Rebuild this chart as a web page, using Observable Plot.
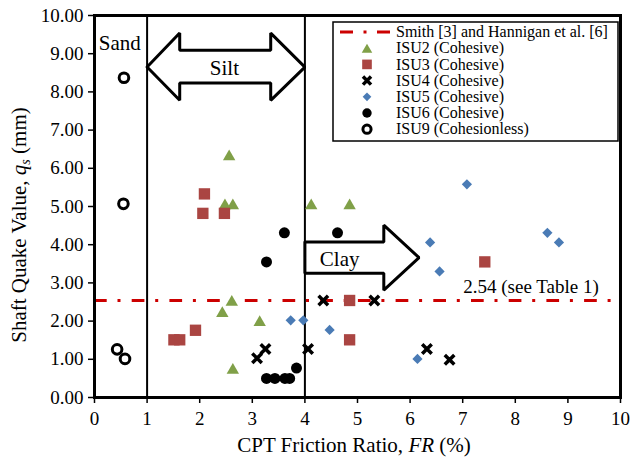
<!DOCTYPE html>
<html>
<head>
<meta charset="utf-8">
<script src="https://cdn.jsdelivr.net/npm/d3@7"></script>
<script src="https://cdn.jsdelivr.net/npm/@observablehq/plot@0.6"></script>
<style>
  html, body { margin: 0; padding: 0; background: #fff; }
  svg { display: block; }
</style>
</head>
<body>
<div id="chart"></div>
<script>
// CPT friction ratio FR (%) and shaft quake qs (mm), one list per test site
const isu2 = [[2.56, 6.35], [2.48, 5.07], [2.63, 5.07], [4.12, 5.07], [4.85, 5.07],
              [2.61, 2.54], [2.43, 2.25], [3.14, 2.01], [2.63, 0.76]];
const isu3 = [[2.09, 5.33], [2.06, 4.82], [2.47, 4.82], [1.51, 1.51], [1.62, 1.51],
              [1.92, 1.76], [4.85, 2.54], [4.85, 1.51], [7.42, 3.55]];
const isu4 = [[3.09, 1.03], [3.25, 1.27], [4.06, 1.27], [4.35, 2.54], [5.32, 2.54],
              [6.32, 1.27], [6.75, 0.99]];
const isu5 = [[3.73, 2.02], [3.97, 2.02], [4.47, 1.77], [6.14, 1.01], [6.38, 4.06],
              [6.56, 3.30], [7.08, 5.58], [8.61, 4.31], [8.83, 4.06]];
const isu6 = [[3.27, 3.55], [3.61, 4.31], [4.62, 4.31], [3.27, 0.50], [3.43, 0.50],
              [3.62, 0.50], [3.71, 0.50], [3.84, 0.77]];
const isu9 = [[0.56, 8.37], [0.55, 5.07], [0.43, 1.26], [0.58, 1.01]];

// Recommended value (Smith; Hannigan et al.)
const smithQuake = 2.54;
const smithLabel = "2.54 (see Table 1)";
const smithLegend = "Smith [3] and Hannigan et al. [6]";

// Soil-type boundaries on the friction-ratio axis
const soilBoundaries = [1, 4];

const xTicks = d3.range(0, 11);
const yTicks = d3.range(0, 11);

const serif = "'Liberation Serif', 'Times New Roman', serif";
const red = "#cc0000";

// Marker style per series
const series = [
  {name: "ISU2 (Cohesive)",      data: isu2, symbol: "triangle", fill: "#80a048", r: 4.6, dy: 1.8},
  {name: "ISU3 (Cohesive)",      data: isu3, symbol: "square",   fill: "#aa4542", r: 6.4},
  {name: "ISU4 (Cohesive)",      data: isu4, symbol: "times",    stroke: "black", strokeWidth: 3.5, r: 4.4},
  {name: "ISU5 (Cohesive)",      data: isu5, symbol: "diamond2", fill: "#4a7bb5", r: 4.6},
  {name: "ISU6 (Cohesive)",      data: isu6, symbol: "circle",   fill: "black", r: 5.5},
  {name: "ISU9 (Cohesionless)",  data: isu9, symbol: "circle",   fill: "white", stroke: "black", strokeWidth: 3, r: 4.8}
];

// Soil-zone annotation arrows, outlined in data units
const siltArrow = [[1.0, 8.65], [1.62, 9.54], [1.62, 9.09], [3.35, 9.09], [3.35, 9.54], [4.0, 8.65],
                   [3.35, 7.78], [3.35, 8.23], [1.62, 8.23], [1.62, 7.78], [1.0, 8.65]];
const clayArrow = [[4.0, 4.07], [5.5, 4.07], [5.5, 4.51], [6.17, 3.66], [5.5, 2.81], [5.5, 3.25],
                   [4.0, 3.25], [4.0, 4.07]];
const zoneLabels = [
  {text: "Sand", x: 0.48, y: 9.27},
  {text: "Silt", x: 2.47, y: 8.62},
  {text: "Clay", x: 4.66, y: 3.63}
];

const dashDot = "12.7,10.8,3,11.2";

const chart = Plot.plot({
  width: 631,
  height: 464,
  marginLeft: 94,
  marginRight: 11,
  marginTop: 15,
  marginBottom: 67,
  style: {fontFamily: serif, fontSize: "19px", color: "black", background: "white"},
  x: {domain: [0, 10]},
  y: {domain: [0, 10]},
  marks: [
    Plot.ruleX(soilBoundaries, {stroke: "black", strokeWidth: 2}),
    Plot.ruleY([smithQuake], {stroke: red, strokeWidth: 3, strokeDasharray: dashDot}),
    Plot.line(siltArrow, {x: d => d[0], y: d => d[1], stroke: "black", fill: "white", strokeWidth: 3, strokeLinejoin: "miter"}),
    Plot.line(clayArrow, {x: d => d[0], y: d => d[1], stroke: "black", fill: "white", strokeWidth: 3, strokeLinejoin: "miter"}),
    Plot.text(zoneLabels, {x: "x", y: "y", text: "text", fontSize: 21, fill: "black"}),
    Plot.text([smithLabel], {x: 7.01, y: smithQuake + 0.36, text: d => d, textAnchor: "start", fontSize: 19, fill: "black"}),
    ...series.map(s => Plot.dot(s.data, {
      x: d => d[0], y: d => d[1], symbol: s.symbol, r: s.r,
      fill: s.fill ?? "none", stroke: s.stroke ?? "none", strokeWidth: s.strokeWidth ?? 1,
      dy: s.dy ?? 0
    })),
    Plot.axisX({ticks: xTicks, tickFormat: d3.format("d"), tickSize: 6, tickPadding: 8, strokeWidth: 1.5, label: null}),
    Plot.axisY({ticks: yTicks, tickFormat: d3.format(".2f"), tickSize: 6, tickPadding: 5, strokeWidth: 1.5, label: null}),
    Plot.frame({stroke: "black", strokeWidth: 3})
  ]
});

document.getElementById("chart").appendChild(chart);

const svg = d3.select(chart);

// Axis titles with italic symbols
const xTitle = svg.append("text")
  .attr("x", 354).attr("y", 452)
  .attr("text-anchor", "middle")
  .attr("font-size", 21).attr("fill", "black");
xTitle.append("tspan").text("CPT Friction Ratio, ");
xTitle.append("tspan").attr("font-style", "italic").text("FR");
xTitle.append("tspan").text(" (%)");

const yTitle = svg.append("text")
  .attr("transform", "translate(26,225) rotate(-90)")
  .attr("text-anchor", "middle")
  .attr("font-size", 21).attr("fill", "black");
yTitle.append("tspan").text("Shaft Quake Value, ");
yTitle.append("tspan").attr("font-style", "italic").text("q");
yTitle.append("tspan").attr("font-style", "italic").attr("font-size", 14).attr("dy", 4).text("s");
yTitle.append("tspan").attr("dy", -4).text(" (mm)");

// Legend box in the upper right of the frame
const legend = svg.append("g")
  .attr("transform", "translate(333,22)")
  .attr("font-size", 16)
  .attr("text-anchor", "start");
legend.append("rect")
  .attr("width", 285).attr("height", 119)
  .attr("fill", "white").attr("stroke", "black").attr("stroke-width", 1.5);

const rowY = i => 10 + i * 16.2;
legend.append("line")
  .attr("x1", 7).attr("x2", 59).attr("y1", rowY(0)).attr("y2", rowY(0))
  .attr("stroke", red).attr("stroke-width", 3).attr("stroke-dasharray", "13,10.5,3,10.5");
legend.append("text")
  .attr("x", 63).attr("y", rowY(0)).attr("dy", "0.33em").attr("fill", "black")
  .attr("text-anchor", "start")
  .text(smithLegend);

const symbolTypes = {
  triangle: d3.symbolTriangle, square: d3.symbolSquare, times: d3.symbolTimes,
  diamond2: d3.symbolDiamond2, circle: d3.symbolCircle
};
series.forEach((s, i) => {
  const r = s.r * 0.85;
  legend.append("path")
    .attr("transform", `translate(34,${rowY(i + 1) + (s.dy ? s.dy * 0.85 : 0)})`)
    .attr("d", d3.symbol(symbolTypes[s.symbol], Math.PI * r * r)())
    .attr("fill", s.fill ?? "none")
    .attr("stroke", s.stroke ?? "none")
    .attr("stroke-width", s.strokeWidth ?? 1);
  legend.append("text")
    .attr("x", 63).attr("y", rowY(i + 1)).attr("dy", "0.33em").attr("fill", "black")
    .attr("text-anchor", "start")
    .text(s.name);
});
</script>
</body>
</html>
